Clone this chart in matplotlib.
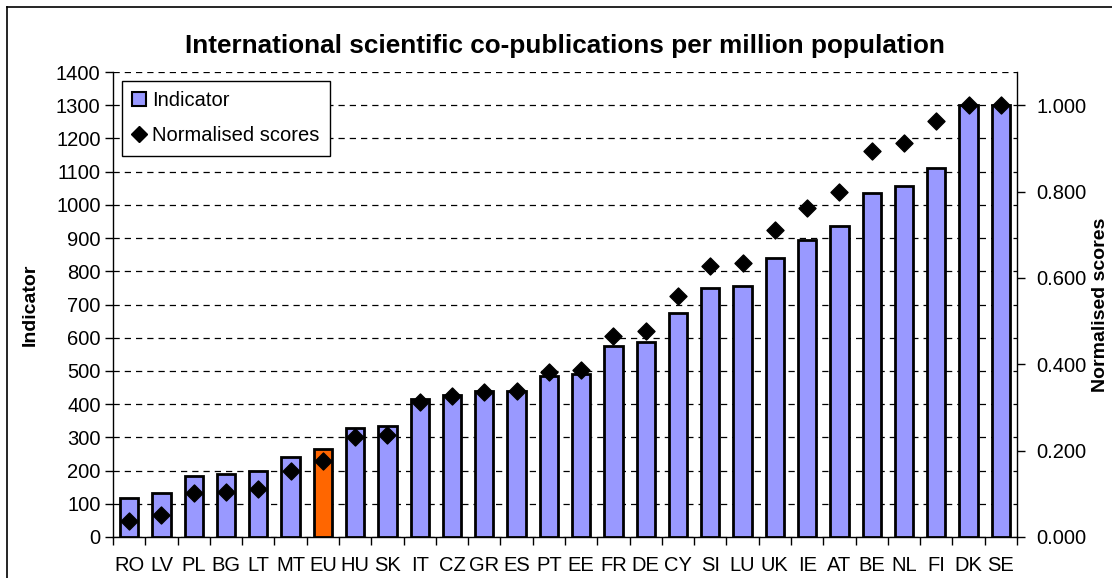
import matplotlib
matplotlib.use("Agg")
import matplotlib.pyplot as plt
from matplotlib.lines import Line2D
from matplotlib.patches import Patch
from matplotlib.ticker import MultipleLocator, FormatStrFormatter
import numpy as np

plt.rcParams['font.family'] = ['Liberation Sans', 'DejaVu Sans']

# Data
countries = ['RO', 'LV', 'PL', 'BG', 'LT', 'MT', 'EU', 'HU', 'SK', 'IT', 'CZ', 'GR', 'ES', 'PT',
             'EE', 'FR', 'DE', 'CY', 'SI', 'LU', 'UK', 'IE', 'AT', 'BE', 'NL', 'FI', 'DK', 'SE']
indicator = [118, 131, 185, 189, 199, 242, 266, 329, 334, 414, 428, 439, 440, 485,
             492, 576, 587, 674, 749, 756, 839, 894, 936, 1036, 1057, 1111, 1300, 1302]
normalised = [0.038, 0.050, 0.101, 0.105, 0.112, 0.152, 0.175, 0.232, 0.237, 0.312, 0.326, 0.336, 0.337, 0.383,
              0.387, 0.466, 0.477, 0.559, 0.627, 0.634, 0.711, 0.762, 0.800, 0.894, 0.913, 0.964, 1.000, 1.000]
highlight = 'EU'

bar_color = '#9999FF'
hl_color = '#FF6600'

fig = plt.figure(figsize=(11.12, 5.78), dpi=100)
ax = fig.add_axes([113 / 1112, 1 - 537 / 578, (1017 - 113) / 1112, (537 - 72) / 578])
ax2 = ax.twinx()

x = np.arange(len(countries))
colors = [hl_color if c == highlight else bar_color for c in countries]
ax.bar(x, indicator, width=0.57, color=colors, edgecolor='black', linewidth=2, zorder=3)
ax2.scatter(x, normalised, marker='D', s=75, color='black', zorder=4)

# left axis
ax.set_ylim(0, 1400)
ax.set_xlim(-0.5, len(countries) - 0.5)
ax.yaxis.set_major_locator(MultipleLocator(100))
ax.grid(axis='y', color='black', linestyle=(0, (5, 4)), linewidth=0.9, zorder=0)
ax.set_xticks(x)
ax.set_xticklabels(countries)
ax.set_xticks(np.arange(-0.5, len(countries), 1), minor=True)
ax.tick_params(axis='x', which='major', length=0, labelsize=14.5, pad=14)
ax.tick_params(axis='x', which='minor', length=6, direction='out', width=1)
ax.tick_params(axis='y', length=6, width=1, labelsize=14.5, pad=3)
ax.set_ylabel('Indicator', fontsize=14, fontweight='bold', labelpad=12)

# right axis
ax2.set_ylim(0, 1400 / 1300)
ax2.yaxis.set_major_locator(MultipleLocator(0.2))
ax2.yaxis.set_major_formatter(FormatStrFormatter('%.3f'))
ax2.tick_params(axis='y', length=6, width=1, labelsize=14.5, pad=8)
ax2.set_ylabel('Normalised scores', fontsize=14, fontweight='bold', labelpad=4)

for a in (ax, ax2):
    a.spines['top'].set_visible(False)
    for s in ('left', 'right', 'bottom'):
        a.spines[s].set_color('black')
        a.spines[s].set_linewidth(1)
ax.spines['right'].set_visible(False)
ax2.spines['left'].set_visible(False)
ax2.spines['bottom'].set_visible(False)

ax.set_title('International scientific co-publications per million population',
             fontsize=18.8, fontweight='bold', pad=14)

handles = [Patch(facecolor=bar_color, edgecolor='black', linewidth=1.5, label='Indicator'),
           Line2D([], [], marker='D', color='black', linestyle='none', markersize=8.5,
                  label='Normalised scores')]
leg = ax2.legend(handles=handles, loc='upper left', bbox_to_anchor=(0.01, 0.98),
                 fontsize=14.5, frameon=True, fancybox=False, framealpha=1,
                 handlelength=0.7, handletextpad=0.3, borderpad=0.5,
                 labelspacing=0.8, borderaxespad=0)
leg.get_frame().set_edgecolor('black')
leg.get_frame().set_linewidth(1)

# outer chart border (top and left visible in the original)
fig.add_artist(Line2D([7 / 1112, 7 / 1112], [0, 1 - 7 / 578], color='black', linewidth=1.2,
                      transform=fig.transFigure))
fig.add_artist(Line2D([7 / 1112, 1], [1 - 7 / 578, 1 - 7 / 578], color='black', linewidth=1.2,
                      transform=fig.transFigure))

fig.savefig('out.png', dpi=100)
